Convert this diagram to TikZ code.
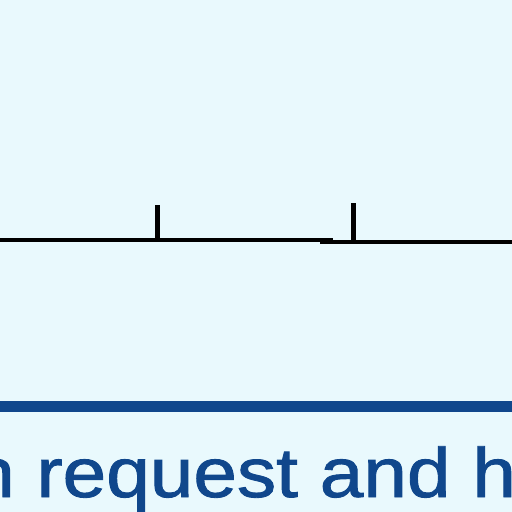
\documentclass[tikz,border=0pt]{standalone}
\usepackage{fontspec}
\setmainfont{Liberation Sans}
\newfontfamily\heavysans[FakeBold=1.2]{Liberation Sans}
\definecolor{bgc}{HTML}{E9F9FD}
\definecolor{navy}{HTML}{10478C}
\begin{document}
\begin{tikzpicture}[x=1pt,y=-1pt,
  blk/.style={line width=4.5pt, draw=black},
  rule/.style={fill=navy},
  lbl/.style={anchor=base west, inner sep=0pt, text=navy, font=\heavysans\fontsize{70}{84}\selectfont}]
\fill[bgc] (0,0) rectangle (512,512);
\useasboundingbox (0,0) rectangle (512,512);
\clip (0,0) rectangle (512,512);
\coordinate (l1a) at (-5,240);
\coordinate (l1b) at (333,240);
\coordinate (l2a) at (320,242);
\coordinate (l2b) at (517,242);
\coordinate (t1top) at (157.5,205);
\coordinate (t1bot) at (157.5,240);
\coordinate (t2top) at (353.5,203);
\coordinate (t2bot) at (353.5,242);
\draw[blk] (l1a) -- (l1b);
\draw[blk] (l2a) -- (l2b);
\draw[blk] (t1top) -- (t1bot);
\draw[blk] (t2top) -- (t2bot);
\fill[rule] (-5,401) rectangle (517,412);
\node[lbl] (txt) at (-29,497) {\scalebox{1.12}[1]{n request and h}};
\end{tikzpicture}
\end{document}
